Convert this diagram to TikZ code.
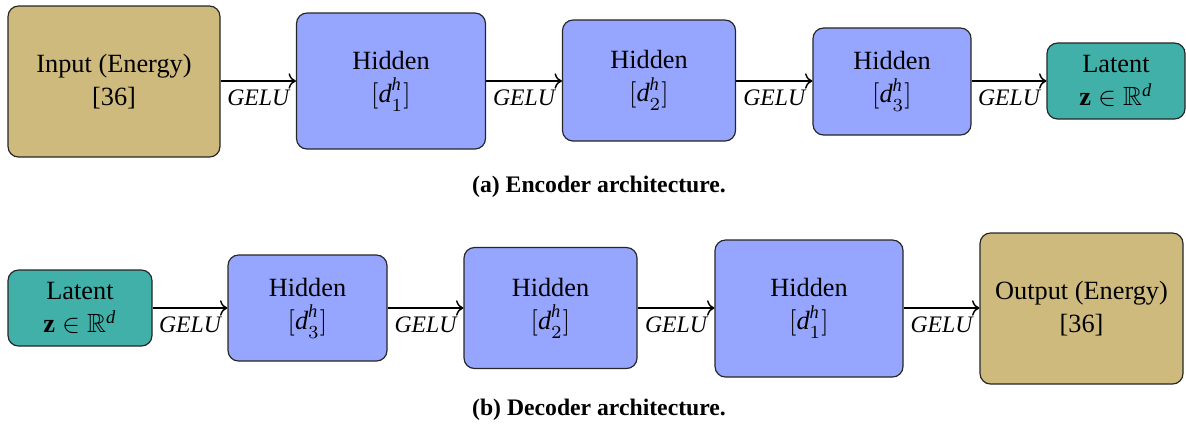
\documentclass[tikz,border=0pt]{standalone}
\usepackage{amsmath,amssymb}
\usepackage{fontspec}
\setmainfont{Liberation Serif}
\usetikzlibrary{arrows.meta}

\definecolor{ioTan}{RGB}{207,186,125}
\definecolor{hidBlue}{RGB}{150,166,255}
\definecolor{latTeal}{RGB}{64,176,168}

% width of a hidden layer, written as [d_i^h]
\newcommand{\hiddim}[1]{$[\mathit{d}^{\raisebox{0.6pt}{$\scriptstyle\mathit{h}$}}_{\raisebox{-1pt}{$\scriptstyle #1$}}]$}

\tikzset{
  block/.style={draw=black!85, line width=0.45pt, rounded corners=4pt,
    align=center, inner sep=0pt, font=\fontsize{10}{12.5}\selectfont},
  iobox/.style={block, fill=ioTan},
  hidbox/.style={block, fill=hidBlue},
  latbox/.style={block, fill=latTeal},
  flow/.style={->, line width=0.55pt},
  act/.style={below, inner sep=3pt, font=\fontsize{9}{11}\selectfont\itshape},
  capt/.style={font=\fontsize{9}{11}\selectfont\bfseries}
}

\begin{document}
\begin{tikzpicture}[x=0.38pt, y=-0.38pt]
  \useasboundingbox (0,0) rectangle (1186,426);

  % encoder row
  \node[iobox, minimum width=212*0.38pt, minimum height=151*0.38pt] (in) at (114,81.5)
    {Input (Energy)\\{[36]}};
  \node[hidbox, minimum width=189*0.38pt, minimum height=136*0.38pt] (e1) at (391,81)
    {Hidden\\\hiddim{1}};
  \node[hidbox, minimum width=173*0.38pt, minimum height=121*0.38pt] (e2) at (649,80.5)
    {Hidden\\\hiddim{2}};
  \node[hidbox, minimum width=158*0.38pt, minimum height=107*0.38pt] (e3) at (892,81.5)
    {Hidden\\\hiddim{3}};
  \node[latbox, minimum width=138*0.38pt, minimum height=76*0.38pt] (el) at (1116,81)
    {Latent\\$\mathbf{z}\in\mathbb{R}^{\mathit{d}}$};

  \draw[flow] (in.east |- 0,81) -- node[act] {GELU} (e1.west |- 0,81);
  \draw[flow] (e1.east |- 0,81) -- node[act] {GELU} (e2.west |- 0,81);
  \draw[flow] (e2.east |- 0,81) -- node[act] {GELU} (e3.west |- 0,81);
  \draw[flow] (e3.east |- 0,81) -- node[act] {GELU} (el.west |- 0,81);

  \node[capt] (capa) at (599,187) {(a) Encoder architecture.};

  % decoder row
  \node[latbox, minimum width=144*0.38pt, minimum height=76*0.38pt] (dl) at (80,308)
    {Latent\\$\mathbf{z}\in\mathbb{R}^{\mathit{d}}$};
  \node[hidbox, minimum width=159*0.38pt, minimum height=106*0.38pt] (d3) at (307.5,308)
    {Hidden\\\hiddim{3}};
  \node[hidbox, minimum width=173*0.38pt, minimum height=121*0.38pt] (d2) at (550.5,308)
    {Hidden\\\hiddim{2}};
  \node[hidbox, minimum width=188*0.38pt, minimum height=137*0.38pt] (d1) at (809,308.5)
    {Hidden\\\hiddim{1}};
  \node[iobox, minimum width=203*0.38pt, minimum height=151*0.38pt] (out) at (1081.5,308.5)
    {Output (Energy)\\{[36]}};

  \draw[flow] (dl.east |- 0,308) -- node[act] {GELU} (d3.west |- 0,308);
  \draw[flow] (d3.east |- 0,308) -- node[act] {GELU} (d2.west |- 0,308);
  \draw[flow] (d2.east |- 0,308) -- node[act] {GELU} (d1.west |- 0,308);
  \draw[flow] (d1.east |- 0,308) -- node[act] {GELU} (out.west |- 0,308);

  \node[capt] (capb) at (599,410) {(b) Decoder architecture.};
\end{tikzpicture}
\end{document}
